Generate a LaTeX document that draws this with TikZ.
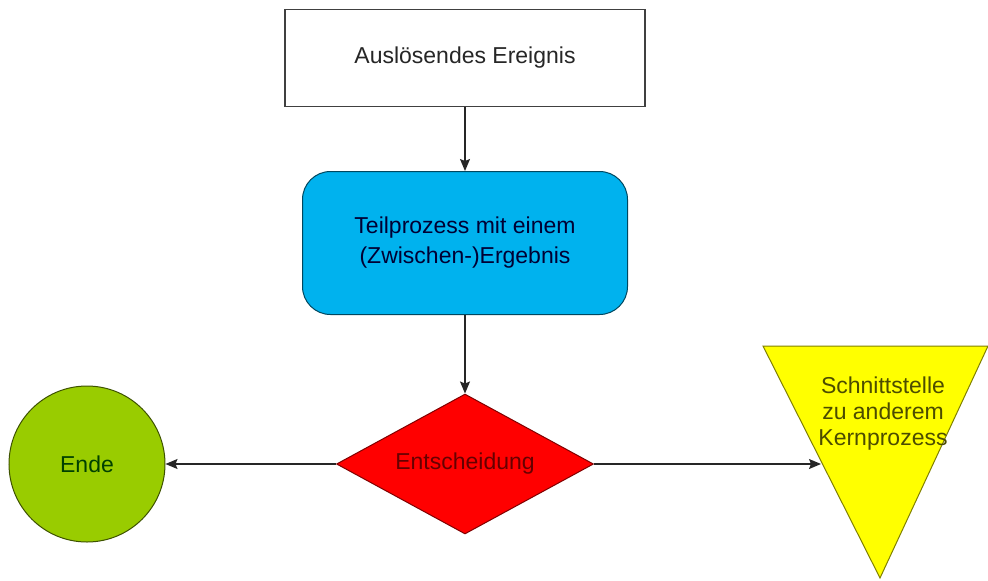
\documentclass[tikz,border=0pt]{standalone}
\usepackage{fontspec}
\setmainfont{Liberation Sans}
\usetikzlibrary{shapes.geometric,arrows.meta}
\definecolor{boxblue}{RGB}{0,178,238}
\definecolor{endgreen}{RGB}{153,204,0}
\definecolor{kpyellow}{RGB}{255,255,0}
\begin{document}
\begin{tikzpicture}[x=1pt,y=-1pt,
  every node/.style={font=\fontsize{23}{27}\selectfont},
  pfeil/.style={-{Stealth[length=12pt,width=10pt,inset=2pt]}, line width=1.2pt, black!85},
  ereignis/.style={rectangle, draw=black!75, line width=1.6pt, fill=white, minimum width=360, minimum height=97, text=black!85},
  teilproz/.style={rectangle, rounded corners=28pt, draw=black!60!boxblue, line width=1pt, fill=boxblue, minimum width=325, minimum height=143, align=center, text=black!80!blue, font=\fontsize{23}{30}\selectfont},
  entsch/.style={diamond, shape aspect=1.8, draw=red!50!black, line width=1pt, fill=red, minimum width=257, minimum height=140, inner sep=0pt, text=red!40!black},
  ende/.style={circle, draw=black!60!endgreen, line width=1pt, fill=endgreen, minimum size=156, text=green!25!black}]
\useasboundingbox (0,0) rectangle (988,581);
\node[ereignis] (tid0) at (465,58){Auslösendes Ereignis};
\node[teilproz] (tid1) at (465,243){Teilprozess mit einem\\(Zwischen-)Ergebnis};
\node[entsch] (tid2) at (465,464){Entscheidung};
\node[ende] (tid3) at (87,464){Ende};
\draw[draw=black!50!kpyellow, line width=1pt, fill=kpyellow] (763,346) -- (988,346) -- (880,578) -- cycle;
\node[align=center, text=black!70!kpyellow, font=\fontsize{23}{26}\selectfont] (tid4) at (883,414){Schnittstelle\\zu anderem\\Kernprozess};
\coordinate (tid5) at (821,464);
\draw[pfeil](tid0) -- (tid1);
\draw[pfeil](tid1) -- (tid2);
\draw[pfeil](tid2) -- (tid3);
\draw[pfeil](tid2) -- (tid5);

\end{tikzpicture}
\end{document}
